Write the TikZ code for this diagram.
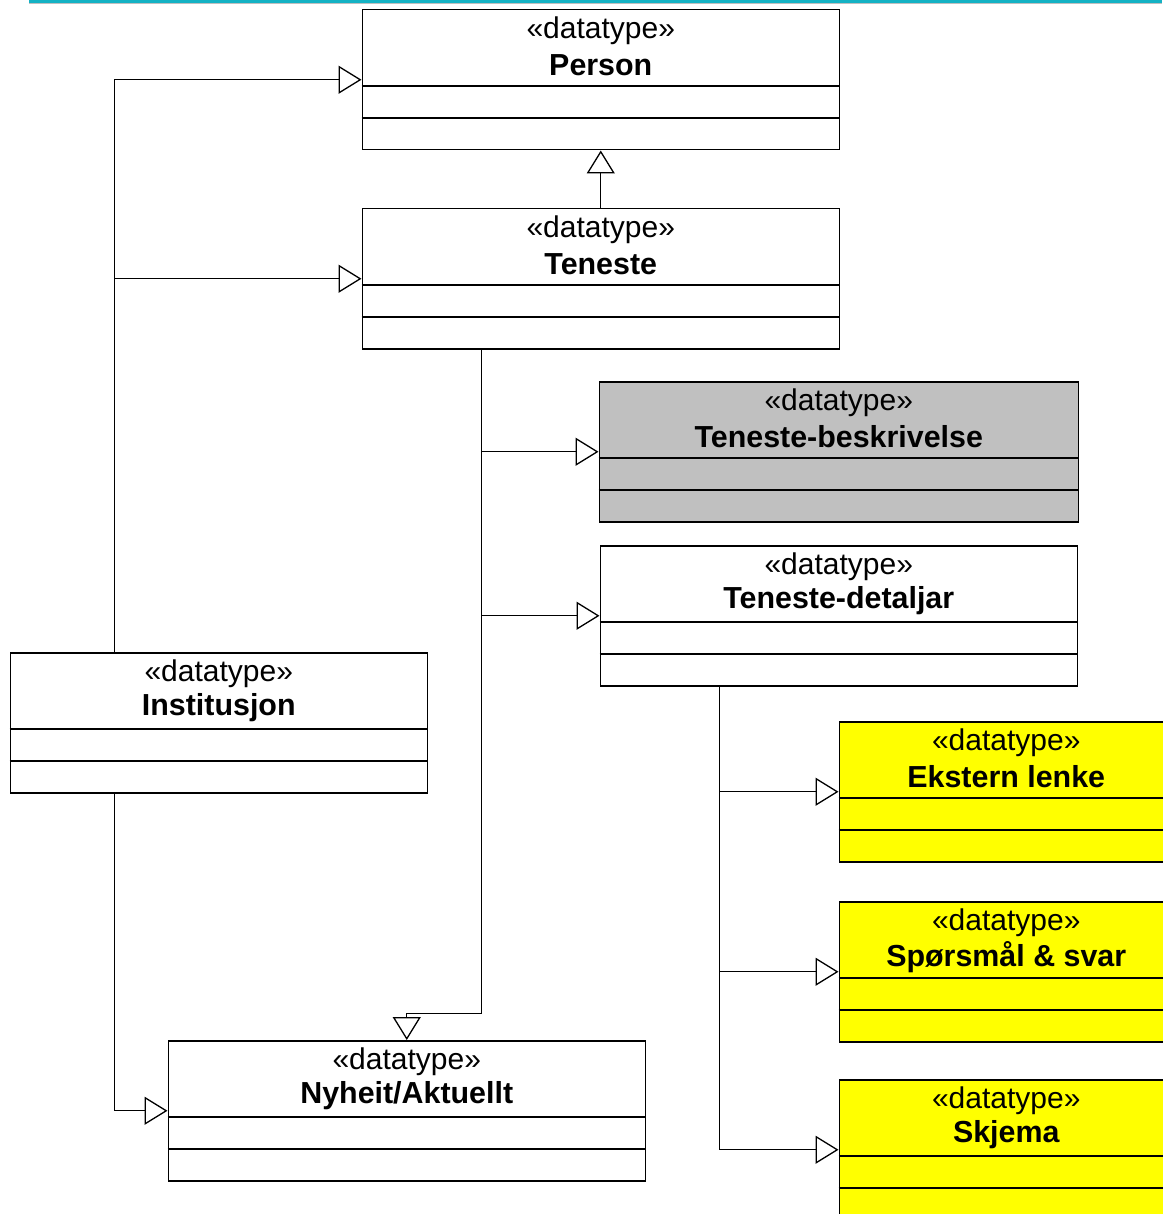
\documentclass[tikz,border=0pt]{standalone}
\usepackage{fontspec}
\setmainfont{Liberation Sans}
\usetikzlibrary{arrows.meta,calc}
\definecolor{topline}{RGB}{20,178,196}
\definecolor{greyfill}{RGB}{192,192,192}
\definecolor{yel}{RGB}{255,255,0}
\tikzset{
  cls/.style={draw=black, line width=1.5pt, anchor=north west, inner sep=0pt, rectangle},
  stereo/.style={font=\fontsize{30}{34}\selectfont, inner sep=0pt, anchor=center},
  cname/.style={font=\fontsize{30.4}{34}\selectfont\bfseries, inner sep=0pt, anchor=center},
  conn/.style={draw=black, line width=1pt, -{Triangle[open, length=23pt, width=28pt, fill=white, line width=1.3pt]}},
  plain/.style={draw=black, line width=1pt}
}
\newcommand{\umlbox}[6]{%
  % #1 name, #2 x, #3 y, #4 width, #5 fill, #6 title
  \node[cls, fill=#5, minimum width=#4pt, minimum height=140pt] (#1) at (#2,#3) {};
  \draw[line width=1.5pt] ([yshift=-77pt]#1.north west) -- ([yshift=-77pt]#1.north east);
  \draw[line width=1.5pt] ([yshift=-109pt]#1.north west) -- ([yshift=-109pt]#1.north east);
  \node[stereo] (#1s) at ([yshift=-21.5pt]#1.north) {«datatype»};
  \node[cname] (#1n) at ([yshift=-56pt]#1.north) {#6};
}
\begin{document}
\begin{tikzpicture}[x=1pt,y=-1pt]
\useasboundingbox (0,0) rectangle (1162,1214);
\fill[white] (0,0) rectangle (1162,1214);
\draw[topline, line width=3pt] (29,1.5) -- (1162,1.5);
\draw[gray!50, line width=0.8pt] (29,3.5) -- (1162,3.5);

\umlbox{person}{361.5}{9}{477}{white}{Person}
\umlbox{teneste}{361.5}{208}{477}{white}{Teneste}
\umlbox{besk}{598.5}{381}{479}{greyfill}{Teneste-beskrivelse}
\umlbox{detal}{599.5}{545}{477}{white}{Teneste-detaljar}
\umlbox{inst}{9.5}{652}{417}{white}{Institusjon}
\umlbox{ekst}{838.5}{721}{334}{yel}{Ekstern lenke}
\umlbox{sporsmal}{838.5}{901}{334}{yel}{Spørsmål \& svar}
\umlbox{skjema}{838.5}{1079}{334}{yel}{Skjema}
\umlbox{nyheit}{167.5}{1040}{477}{white}{Nyheit/Aktuellt}

% Teneste -> Person
\draw[conn] (teneste.north) -- (person.south);

% Institusjon -> Person, Teneste
\coordinate (instTop) at ($(inst.north west)!0.25!(inst.north east)$);
\draw[conn] (instTop) |- (person.west);
\draw[conn] (instTop |- teneste.west) -- (teneste.west);

% Institusjon -> Nyheit
\coordinate (instBot) at ($(inst.south west)!0.25!(inst.south east)$);
\draw[conn] (instBot) |- (nyheit.west);

% Teneste -> beskrivelse, detaljar, nyheit
\coordinate (tenBot) at ($(teneste.south west)!0.25!(teneste.south east)$);
\coordinate (bend) at ($(tenBot |- 0,1013)$);
\draw[conn] (tenBot) -- (bend) -| (nyheit.north);
\draw[conn] (tenBot |- besk.west) -- (besk.west);
\draw[conn] (tenBot |- detal.west) -- (detal.west);

% Teneste-detaljar -> yellow boxes
\coordinate (detBot) at ($(detal.south west)!0.25!(detal.south east)$);
\draw[conn] (detBot) |- (skjema.west);
\draw[conn] (detBot |- ekst.west) -- (ekst.west);
\draw[conn] (detBot |- sporsmal.west) -- (sporsmal.west);
\end{tikzpicture}
\end{document}
